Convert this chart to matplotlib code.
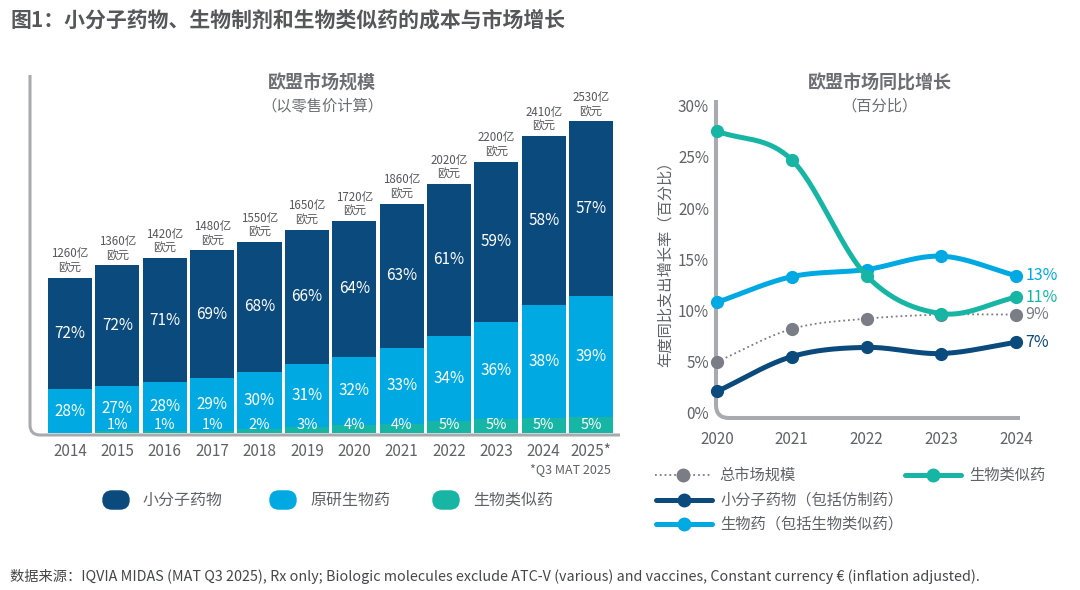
import matplotlib
matplotlib.use("Agg")
import matplotlib.pyplot as plt
import numpy as np
from matplotlib.path import Path
from matplotlib.patches import PathPatch, FancyBboxPatch
from matplotlib.lines import Line2D

plt.rcParams['font.family'] = ['Noto Sans CJK SC', 'DejaVu Sans']

# ------ data: EU market size (bars)
bar_years = ["2014", "2015", "2016", "2017", "2018", "2019", "2020", "2021",
             "2022", "2023", "2024", "2025*"]
totals = [1260, 1360, 1420, 1480, 1550, 1650, 1720, 1860, 2020, 2200, 2410, 2530]
small_pct = [72, 72, 71, 69, 68, 66, 64, 63, 61, 59, 58, 57]
orig_bio_pct = [28, 27, 28, 29, 30, 31, 32, 33, 34, 36, 38, 39]
biosim_pct = [0, 1, 1, 1, 2, 3, 4, 4, 5, 5, 5, 5]

# ------ data: EU market YoY growth (lines)
line_years = [2020, 2021, 2022, 2023, 2024]
total_growth = [5.0, 8.2, 9.2, 9.6, 9.6]
small_growth = [2.1, 5.5, 6.4, 5.8, 6.9]
bio_growth = [10.8, 13.3, 14.0, 15.3, 13.4]
biosim_growth = [27.5, 24.7, 13.4, 9.7, 11.3]
end_labels = ["9%", "7%", "13%", "11%"]

C_DARK = "#0b4a7c"
C_LIGHT = "#00a9e2"
C_TEAL = "#17b5a3"
C_GRAY = "#7a7c86"
C_TXT = "#5f6266"
C_FRAME = "#a7aaae"

W, H = 1080, 590


def box(l, t, r, b):
    return [l / W, 1 - b / H, (r - l) / W, (b - t) / H]


def smooth(x, y, n=40):
    # catmull-rom curve through the points (drawing only)
    x = np.asarray(x, float)
    y = np.asarray(y, float)
    xp = np.concatenate([[2 * x[0] - x[1]], x, [2 * x[-1] - x[-2]]])
    yp = np.concatenate([[2 * y[0] - y[1]], y, [2 * y[-1] - y[-2]]])
    t = np.linspace(0, 1, n, endpoint=False)
    xs, ys = [], []
    for i in range(1, len(xp) - 2):
        for arr, out in ((xp, xs), (yp, ys)):
            p0, p1, p2, p3 = arr[i - 1:i + 3]
            out.append(0.5 * (2 * p1 + (-p0 + p2) * t
                              + (2 * p0 - 5 * p1 + 4 * p2 - p3) * t ** 2
                              + (-p0 + 3 * p1 - 3 * p2 + p3) * t ** 3))
    xs.append([x[-1]])
    ys.append([y[-1]])
    return np.concatenate(xs), np.concatenate(ys)


fig = plt.figure(figsize=(10.8, 5.9), dpi=100)

# overlay in pixel coords for frames, titles, legends
bg = fig.add_axes([0, 0, 1, 1])
bg.set_xlim(0, W)
bg.set_ylim(H, 0)
bg.axis("off")

bg.text(10, 20, "图1：小分子药物、生物制剂和生物类似药的成本与市场增长", fontsize=15,
        fontweight="bold", color="#555759", va="center", ha="left")
bg.text(10, 577, "数据来源：IQVIA MIDAS (MAT Q3 2025), Rx only; Biologic molecules exclude "
        "ATC-V (various) and vaccines, Constant currency € (inflation adjusted).",
        fontsize=10.3, color="#444648", va="center", ha="left")

# rounded L-shaped frames
for verts, lw in (([(30, 75), (30, 425), (30, 435), (40, 435), (620, 435)], 2.2),
                  ([(716, 100), (716, 405), (716, 418), (729, 418), (1020, 418)], 2.9)):
    codes = [Path.MOVETO, Path.LINETO, Path.CURVE3, Path.CURVE3, Path.LINETO]
    bg.add_patch(PathPatch(Path(verts, codes), fill=False, edgecolor=C_FRAME,
                           lw=lw, capstyle="butt"))

bg.text(322, 83, "欧盟市场规模", fontsize=13, fontweight="bold", color="#6b6e72",
        ha="center", va="center")
bg.text(322, 106, "（以零售价计算）", fontsize=11, color="#6b6e72", ha="center", va="center")
bg.text(880, 83, "欧盟市场同比增长", fontsize=13, fontweight="bold", color="#6b6e72",
        ha="center", va="center")
bg.text(880, 106, "（百分比）", fontsize=11, color="#6b6e72", ha="center", va="center")
bg.text(665, 260, "年度同比支出增长率（百分比）", fontsize=11, color=C_TXT,
        ha="center", va="center", rotation=90)
bg.text(570, 470, "*Q3 MAT 2025", fontsize=9, color=C_TXT, ha="center", va="center")

# bar legend
for x0, col, lab in ((95, C_DARK, "小分子药物"), (262, C_LIGHT, "原研生物药"),
                     (425, C_TEAL, "生物类似药")):
    bg.add_patch(FancyBboxPatch((x0 + 9, 492), 24, 16,
                                boxstyle="round,pad=0,rounding_size=8",
                                mutation_aspect=1, fc=col, ec=col, lw=2.5))
    bg.text(x0 + 48, 500, lab, fontsize=11.5, color=C_TXT, va="center", ha="left")

# line legend
leg = ((655, 475, C_GRAY, ":", 1.3, "总市场规模"),
       (905, 475, C_TEAL, "-", 3.6, "生物类似药"),
       (656, 500, C_DARK, "-", 3.6, "小分子药物（包括仿制药）"),
       (656, 524, C_LIGHT, "-", 3.6, "生物药（包括生物类似药）"))
for x0, y0, col, ls, lw, lab in leg:
    bg.add_line(Line2D([x0, x0 + 56], [y0, y0], color=col, ls=ls, lw=lw,
                       solid_capstyle="round"))
    bg.plot([x0 + 28], [y0], "o", color=col, ms=9)
    bg.text(x0 + 64, y0, lab, fontsize=11, color=C_TXT, va="center", ha="left")

# ------- bar chart
ax = fig.add_axes(box(30, 75, 620, 435))
ax.patch.set_visible(False)
xs = np.arange(len(bar_years))
tot = np.array(totals, float)
v_bs = tot * np.array(biosim_pct) / 100
v_ob = tot * np.array(orig_bio_pct) / 100
v_sm = tot - v_bs - v_ob
bw = 0.93
ax.bar(xs, v_bs, bw, color=C_TEAL, lw=0)
ax.bar(xs, v_ob, bw, bottom=v_bs, color=C_LIGHT, lw=0)
ax.bar(xs, v_sm, bw, bottom=v_bs + v_ob, color=C_DARK, lw=0)
for i in xs:
    ax.text(i, v_bs[i] + v_ob[i] + v_sm[i] / 2, f"{small_pct[i]}%", color="white",
            fontsize=11, ha="center", va="center")
    ax.text(i, v_bs[i] + v_ob[i] / 2, f"{orig_bio_pct[i]}%", color="white",
            fontsize=11, ha="center", va="center")
    if biosim_pct[i] > 0:
        ax.text(i, 5, f"{biosim_pct[i]}%", color="white", fontsize=10.5,
                ha="center", va="bottom")
    ax.annotate(f"{totals[i]}亿\n欧元", (i, totals[i]), xytext=(0, 2),
                textcoords="offset points", ha="center", va="bottom",
                fontsize=8.3, color="#55575a", linespacing=1.15)
ax.set_xlim(-0.845, 11.61)
ax.set_ylim(-16.2, 2903)
ax.set_xticks(xs, bar_years)
ax.set_yticks([])
ax.tick_params(axis="x", length=0, pad=6, labelsize=11, labelcolor=C_TXT)
for s in ax.spines.values():
    s.set_visible(False)

# ------- growth lines
ax2 = fig.add_axes(box(716, 100, 1020, 418))
ax2.patch.set_visible(False)
series = ((total_growth, C_GRAY, ":", 1.3, 2),
          (small_growth, C_DARK, "-", 3.6, 3),
          (bio_growth, C_LIGHT, "-", 3.6, 4),
          (biosim_growth, C_TEAL, "-", 3.6, 5))
for vals, col, ls, lw, z in series:
    sx, sy = smooth(line_years, vals)
    ax2.plot(sx, sy, color=col, ls=ls, lw=lw, zorder=z, clip_on=False,
             solid_capstyle="round")
    ax2.plot(line_years, vals, "o", color=col, ms=8.5, zorder=z, clip_on=False)
for vals, col, lab in ((total_growth, C_GRAY, end_labels[0]),
                       (small_growth, C_DARK, end_labels[1]),
                       (bio_growth, C_LIGHT, end_labels[2]),
                       (biosim_growth, C_TEAL, end_labels[3])):
    ax2.annotate(lab, (line_years[-1], vals[-1]), xytext=(7, 0),
                 textcoords="offset points", color=col, fontsize=11.5,
                 ha="left", va="center")
ax2.set_xlim(2020 - 1 / 74.75, 2020 + (1020 - 717) / 74.75)
ax2.set_ylim(-0.49, 30.54)
ax2.set_xticks(line_years, [str(y) for y in line_years])
ax2.set_yticks(range(0, 31, 5), [f"{v}%" for v in range(0, 31, 5)])
ax2.tick_params(axis="both", length=0, labelsize=11, labelcolor=C_TXT)
ax2.tick_params(axis="x", pad=9)
ax2.tick_params(axis="y", pad=5)
for s in ax2.spines.values():
    s.set_visible(False)

fig.savefig("out.png", dpi=100)
